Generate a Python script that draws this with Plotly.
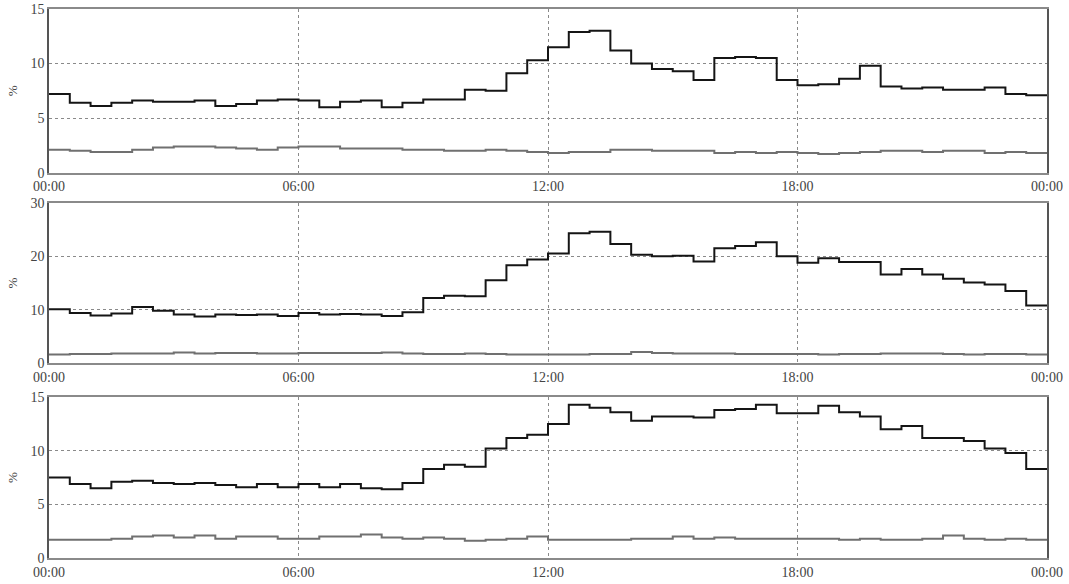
import plotly.graph_objects as go
from plotly.subplots import make_subplots

# time in hours (half-hour steps), last point closes the final step at 24:00
hours = [i * 0.5 for i in range(48)] + [24.0]

tick_vals = [0, 6, 12, 18, 24]
tick_text = ["00:00", "06:00", "12:00", "18:00", "00:00"]

p1_main = [7.2, 6.4, 6.1, 6.4, 6.6, 6.5, 6.5, 6.6, 6.1, 6.3, 6.6, 6.7,
           6.6, 6.0, 6.5, 6.6, 6.0, 6.4, 6.7, 6.7, 7.6, 7.5, 9.1, 10.3,
           11.5, 12.9, 13.0, 11.2, 10.0, 9.5, 9.3, 8.5, 10.5, 10.6, 10.5, 8.5,
           8.0, 8.1, 8.6, 9.8, 7.9, 7.7, 7.8, 7.6, 7.6, 7.8, 7.2, 7.1]
p1_low = [2.1, 2.0, 1.9, 1.9, 2.1, 2.3, 2.4, 2.4, 2.3, 2.2, 2.1, 2.3,
          2.4, 2.4, 2.2, 2.2, 2.2, 2.1, 2.1, 2.0, 2.0, 2.1, 2.0, 1.9,
          1.8, 1.9, 1.9, 2.1, 2.1, 2.0, 2.0, 2.0, 1.8, 1.9, 1.8, 1.9,
          1.8, 1.7, 1.8, 1.9, 2.0, 2.0, 1.9, 2.0, 2.0, 1.8, 1.9, 1.8]

p2_main = [10.1, 9.4, 8.9, 9.3, 10.5, 9.8, 9.1, 8.7, 9.1, 9.0, 9.1, 8.8,
           9.4, 9.1, 9.2, 9.1, 8.8, 9.5, 12.2, 12.6, 12.5, 15.5, 18.3, 19.4,
           20.5, 24.3, 24.6, 22.3, 20.3, 20.0, 20.1, 19.0, 21.5, 21.9, 22.6, 20.0,
           18.8, 19.6, 18.9, 18.9, 16.6, 17.6, 16.6, 15.8, 15.1, 14.7, 13.5, 10.8]
p2_low = [1.6, 1.7, 1.7, 1.8, 1.8, 1.8, 2.0, 1.8, 1.9, 1.9, 1.8, 1.8,
          1.9, 1.9, 1.9, 1.9, 2.0, 1.8, 1.7, 1.7, 1.8, 1.7, 1.6, 1.6,
          1.6, 1.6, 1.7, 1.7, 2.1, 1.9, 1.8, 1.8, 1.8, 1.7, 1.7, 1.7,
          1.7, 1.6, 1.7, 1.7, 1.8, 1.8, 1.8, 1.7, 1.6, 1.7, 1.7, 1.6]

p3_main = [7.5, 6.9, 6.5, 7.1, 7.2, 7.0, 6.9, 7.0, 6.8, 6.6, 6.9, 6.6,
           6.9, 6.6, 6.9, 6.5, 6.4, 7.0, 8.3, 8.7, 8.5, 10.2, 11.2, 11.5,
           12.5, 14.3, 14.0, 13.6, 12.8, 13.2, 13.2, 13.1, 13.8, 13.9, 14.3, 13.5,
           13.5, 14.2, 13.6, 13.2, 12.0, 12.3, 11.2, 11.2, 10.9, 10.2, 9.8, 8.3]
p3_low = [1.7, 1.7, 1.7, 1.8, 2.0, 2.1, 1.9, 2.1, 1.8, 2.0, 2.0, 1.8,
          1.8, 2.0, 2.0, 2.2, 1.9, 1.8, 1.9, 1.8, 1.6, 1.7, 1.8, 2.0,
          1.7, 1.7, 1.7, 1.7, 1.8, 1.8, 2.0, 1.8, 1.9, 1.8, 1.8, 1.8,
          1.8, 1.8, 1.7, 1.8, 1.7, 1.7, 1.8, 2.1, 1.8, 1.7, 1.8, 1.7]

panels = [
    (p1_main, p1_low, [0, 15], [0, 5, 10, 15]),
    (p2_main, p2_low, [0, 30], [0, 10, 20, 30]),
    (p3_main, p3_low, [0, 15], [0, 5, 10, 15]),
]

fig = make_subplots(rows=3, cols=1, vertical_spacing=0.06)

font = dict(family="Liberation Serif, Times New Roman, serif", size=14, color="#444")

for i, (main, low, yr, yt) in enumerate(panels, start=1):
    fig.add_trace(go.Scatter(x=hours, y=low + [low[-1]], mode="lines",
                             line=dict(shape="hv", color="#707070", width=2),
                             showlegend=False), row=i, col=1)
    fig.add_trace(go.Scatter(x=hours, y=main + [main[-1]], mode="lines",
                             line=dict(shape="hv", color="#151515", width=2),
                             showlegend=False), row=i, col=1)
    fig.update_xaxes(range=[0, 24], tickvals=tick_vals, ticktext=tick_text,
                     showgrid=True, gridcolor="#8a8a8a", griddash="dot", gridwidth=1,
                     showline=True, linecolor="#8a8a8a", linewidth=1.5, mirror=True,
                     ticks="", zeroline=False, tickfont=font, automargin=False,
                     row=i, col=1)
    fig.update_yaxes(range=yr, tickvals=yt, showgrid=True, gridcolor="#8a8a8a",
                     griddash="dot", gridwidth=1,
                     showline=True, linecolor="#555", linewidth=1.5, mirror=True,
                     ticks="", zeroline=False, tickfont=font, automargin=False,
                     title=dict(text="%", font=dict(family="Liberation Serif, serif", size=13, color="#444"), standoff=10),
                     row=i, col=1)

fig.update_layout(
    width=1069, height=584,
    margin=dict(l=49, r=22, t=9, b=26),
    paper_bgcolor="white", plot_bgcolor="white",
    xaxis=dict(domain=[0, 1]),
    yaxis=dict(domain=[0.702, 1.0]),
    yaxis2=dict(domain=[0.355, 0.647]),
    yaxis3=dict(domain=[0.0, 0.293]),
)

fig.write_html("out.html", config={"displayModeBar": False},
               post_script="document.body.style.margin='0';")
